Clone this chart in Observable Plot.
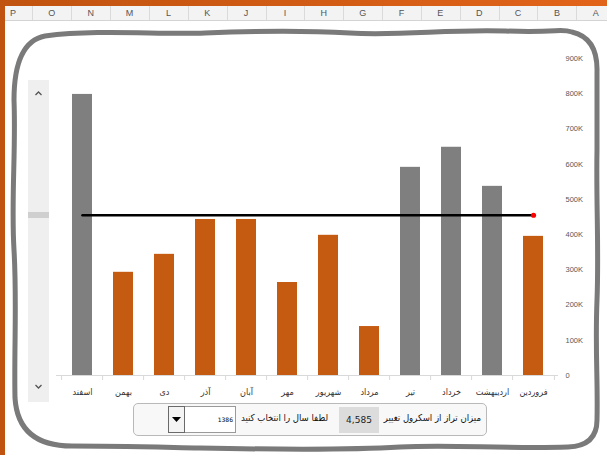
<!DOCTYPE html>
<html><head><meta charset="utf-8">
<script src="https://cdn.jsdelivr.net/npm/d3@7"></script>
<script src="https://cdn.jsdelivr.net/npm/@observablehq/plot@0.6"></script>
<style>
html,body{margin:0;padding:0;background:#fff;}
#page{position:relative;width:607px;height:455px;overflow:hidden;background:#fff;font-family:"DejaVu Sans Condensed","DejaVu Sans",sans-serif;}
#topband{position:absolute;left:0;top:0;width:607px;height:6px;background:linear-gradient(90deg,#c0530f,#e2641a);}
#leftband{position:absolute;left:0;top:0;width:5px;height:455px;background:#c0530f;}
#header{position:absolute;left:5px;top:6px;width:602px;height:14px;background:#f3f3f3;border-bottom:1px solid #d4d4d4;}
.col{position:absolute;top:6px;height:14px;font:9px "Liberation Sans Narrow","Liberation Sans",sans-serif;color:#555;line-height:14px;transform:translateX(-50%);}
.sep{position:absolute;top:6px;height:14px;width:1px;background:#dadada;}
#frame{position:absolute;left:0;top:0;}
#chart{position:absolute;left:0;top:0;}
#scroll{position:absolute;left:28px;top:80px;width:21px;height:322px;background:#efefef;}
#thumb{position:absolute;left:28px;top:212px;width:21px;height:6px;background:#cfcfcf;}
#ctrl{position:absolute;left:133px;top:403px;width:354px;height:33px;box-sizing:border-box;border:1px solid #b9b9b9;border-radius:5px;background:#f8f8f8;}
.t{position:absolute;direction:rtl;white-space:nowrap;color:#111;font-family:"DejaVu Sans Condensed","DejaVu Sans",sans-serif;}
</style></head>
<body><div id="page">
<div id="topband"></div><div id="leftband"></div><div id="header"></div>
<svg id="frame" width="607" height="455"><path d="M45,36 C100,29 160,35 205,33 S300,30 350,33 S450,29 505,31 S560,28 572,32 Q598,38 597,72 L597,150 C596,200 599,250 597,300 S598,380 597,420 Q597,446 568,447 C500,449 450,444 400,447 S250,449 200,448 S110,446 72,446 Q18,446 15,398 C14,350 17,300 14,250 S16,150 14,100 Q14,42 45,36 Z" fill="none" stroke="#7a7a7a" stroke-width="5"/></svg>
<div id="scroll"></div><div id="thumb"></div>
<svg style="position:absolute;left:28px;top:80px" width="21" height="322"><path d="M7.5,15 L10.5,12 L13.5,15" fill="none" stroke="#555" stroke-width="1.3"/><path d="M7.5,305 L10.5,308 L13.5,305" fill="none" stroke="#555" stroke-width="1.3"/></svg>
<div id="chart"></div>
<div id="ctrl">
  <div class="t" style="right:5px;top:8px;font-size:9.5px;">میزان تراز از اسکرول تغییر</div>
  <div style="position:absolute;left:205px;top:3px;width:40px;height:26px;background:#dcdcdc;font:9px 'DejaVu Sans',sans-serif;line-height:26px;text-align:center;color:#222;">4,585</div>
  <div class="t" style="right:158px;top:8px;font-size:9.5px;">لطفا سال را انتخاب کنید</div>
  <div style="position:absolute;left:50px;top:2px;width:48px;height:25px;background:#fff;border:1px solid #9a9a9a;font:6px 'DejaVu Sans',sans-serif;color:#000;line-height:25px;text-align:right;padding-right:2px;box-sizing:content-box;">1386</div>
  <div style="position:absolute;left:34px;top:2px;width:15px;height:25px;background:#f4f4f4;border:1px solid #6a6a6a;box-sizing:content-box;"><svg width="15" height="25"><path d="M3,10 L12,10 L7.5,15 Z" fill="#000"/></svg></div>
</div>
</div>
<script>
const columns = ["P","O","N","M","L","K","J","I","H","G","F","E","D","C","B","A"];
const months = ["فروردین","اردیبهشت","خرداد","تیر","مرداد","شهریور","مهر","آبان","آذر","دی","بهمن","اسفند"];
const values = [395000, 537000, 648000, 591000, 139000, 398000, 264000, 443000, 443000, 344000, 293000, 798000];
const threshold = 455000;
const yTicks = [0,100000,200000,300000,400000,500000,600000,700000,800000,900000];

const page = document.getElementById("page");
columns.forEach((c,i)=>{
  const x = 13 + i*38.85;
  const d = document.createElement("div"); d.className="col"; d.style.left = x+"px"; d.textContent=c; page.appendChild(d);
  const s = document.createElement("div"); s.className="sep"; s.style.left=(x+19.4)+"px"; page.appendChild(s);
});

const data = months.map((m,i)=>({month:m, value:values[i]}));
const order = months.slice().reverse();
const grey = "#7f7f7f", orange = "#c55a11";

const chart = Plot.plot({
  width: 607, height: 455,
  marginLeft: 56, marginRight: 49, marginTop: 58, marginBottom: 80,
  style: {background: "transparent", overflow: "visible"},
  x: {domain: order, paddingInner: 0.52, paddingOuter: 0.26},
  y: {domain: [0, 900000]},
  marks: [
    Plot.ruleY([0], {stroke: "#d9d9d9"}),
    Plot.ruleX(order, {x: d=>d, y1: 0, y2: 0, dx: -20.92, insetBottom: -5, stroke: "#d9d9d9"}),
    Plot.ruleX([order[order.length-1]], {x: d=>d, y1: 0, y2: 0, dx: 20.92, insetBottom: -5, stroke: "#d9d9d9"}),
    Plot.barY(data, {x: "month", y: "value", fill: d => d.value > threshold ? grey : orange}),
    Plot.line([{month: order[0], v: threshold}, {month: order[order.length-1], v: threshold}], {x: "month", y: "v", stroke: "#000", strokeWidth: 2.5}),
    Plot.dot([{month: order[order.length-1], v: threshold}], {x: "month", y: "v", r: 2.6, fill: "#ff0000", stroke: "none"}),
    Plot.axisY({anchor: "right", ticks: yTicks, tickSize: 0, tickPadding: 7, fontSize: 7.5, fill: "#595959",
      tickFormat: d => d === 0 ? "0" : (d/1000) + "K", fontFamily: "Liberation Sans Narrow, Liberation Sans, sans-serif"}),
    Plot.axisX({anchor: "bottom", tickSize: 0, tickPadding: 13, fontSize: 9, fill: "#333", fontFamily: "DejaVu Sans Condensed, DejaVu Sans, sans-serif", label: null})
  ]
});
document.getElementById("chart").appendChild(chart);
</script>
</body></html>
